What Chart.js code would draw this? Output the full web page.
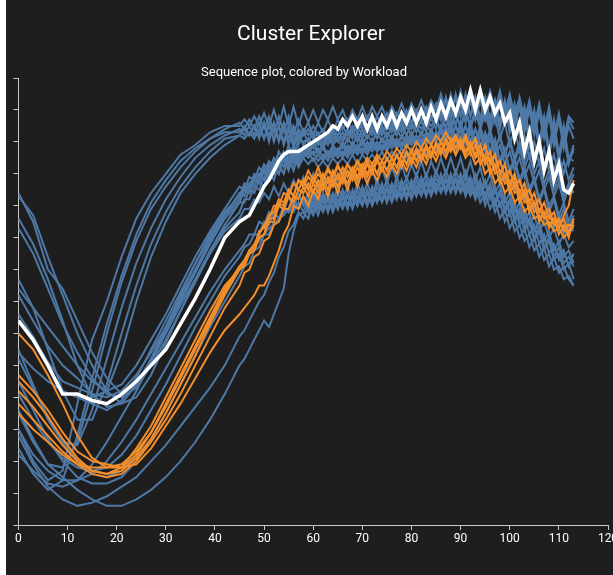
<!DOCTYPE html>
<html>
<head>
<meta charset="utf-8">
<script src="https://cdn.jsdelivr.net/npm/chart.js@4"></script>
<style>
  html, body { margin: 0; padding: 0; background: #ffffff; overflow: hidden; }
  #frame { position: absolute; left: 6px; top: 0; width: 607px; height: 575px; background: #1e1e1e; overflow: hidden; }
  #wrap { position: absolute; left: 0; top: 0; width: 630px; height: 575px; }
  .head { position: absolute; color: #ffffff; font-family: Roboto, sans-serif; white-space: nowrap; transform: translateX(-50%); }
  #title { left: 305px; top: 21px; font-size: 21px; line-height: 24px; }
  #subtitle { left: 298px; top: 64px; font-size: 13px; line-height: 16px; }
</style>
</head>
<body>
<div id="frame">
  <div id="wrap"><canvas id="c"></canvas></div>
  <div id="title" class="head">Cluster Explorer</div>
  <div id="subtitle" class="head">Sequence plot, colored by Workload</div>
</div>
<script>
// Sequence positions: coarse steps over the descent/rise, every step from 45 on
const X = [0,3,6,9,12,15,18,21,24,27,30,33,36,39,42,
  45,46,47,48,49,50,51,52,53,54,55,56,57,
  58,59,60,61,62,63,64,65,66,67,68,69,70,71,72,73,74,75,76,77,78,79,80,81,82,83,84,85,
  86,87,88,89,90,91,92,93,94,95,96,97,98,99,100,101,102,103,104,105,106,107,108,109,110,111,112,113];

const X_TICKS = [0,10,20,30,40,50,60,70,80,90,100,110,120];

// Selected sequence
const selected = [64,58,50,41,41,39,38,41,45,50,55,63,71,80,90,
  95,96,97,100,103,106,108,111,114,116,117,117,117,
  118,119,120,121,122,123,125,124,127,125,128,125,128,124,128,124,128,125,129,125,129,126,
  130,126,130,126,131,127,132,128,133,129,134,130,136,130,136,130,134,129,132,126,129,121,
  126,117,123,114,120,111,117,108,113,105,104,107];

// Workload B sequences (orange)
const wB1 = [60,55,47,38,28,21,18,18,22,29,38,47,56,65,74,
  81,83,86,88,91,94,96,100,100,104,103,107,105,
  108,105,109,106,110,107,111,108,112,109,112,109,113,110,113,110,114,111,115,112,116,113,
  117,114,118,115,119,116,120,117,121,118,121,117,120,116,119,114,117,112,114,109,
  111,106,108,103,105,100,102,97,99,94,96,92,94,93];
const wB2 = [45,40,34,27,21,17,16,18,24,31,40,49,58,67,75,
  80,81,85,86,90,91,96,96,101,100,105,103,108,
  107,111,108,112,108,112,109,113,109,113,110,114,110,114,111,115,111,115,112,116,112,117,
  113,117,114,118,115,119,116,120,117,121,118,122,118,121,116,119,113,116,110,113,
  107,110,104,107,101,104,98,101,96,98,93,96,91,94];
const wB3 = [42,37,31,25,20,17,16,17,21,27,35,44,53,63,72,
  80,82,85,86,90,91,95,95,100,99,103,101,105,
  104,107,104,108,105,109,106,110,107,111,108,112,109,113,110,114,111,115,112,116,113,117,
  114,118,115,119,116,120,117,121,118,122,119,122,118,121,116,119,113,116,110,113,
  106,109,102,105,99,101,96,98,94,96,93,97,100,108];
const wB4 = [38,33,28,23,19,16,15,16,20,26,33,41,50,59,68,
  75,79,80,84,85,89,90,94,95,99,99,103,102,
  106,103,107,104,108,105,109,106,110,107,111,108,112,109,113,110,114,111,115,112,116,113,
  117,114,118,115,119,116,120,117,120,116,119,115,117,113,115,110,112,107,109,104,
  106,101,103,98,100,96,97,94,95,92,93,90,92,95];
const wB5 = [35,30,26,22,19,18,18,19,23,29,37,46,55,64,73,
  81,82,86,87,92,93,97,98,102,101,105,103,108,
  106,109,107,110,108,111,109,112,110,113,111,114,112,115,113,116,114,117,115,118,116,119,
  117,120,118,121,119,122,120,123,120,122,118,121,116,119,113,116,110,113,107,110,
  104,107,101,104,98,101,95,98,93,96,91,94,90,96];
const wB6 = [47,42,36,29,23,20,19,18,19,24,31,38,46,54,61,
  66,68,70,72,75,75,78,82,86,91,94,100,99,
  103,100,105,102,107,103,108,104,109,105,110,106,111,107,111,108,112,109,113,110,114,111,
  115,112,116,113,117,114,118,115,119,116,120,116,119,115,117,113,115,110,111,107,
  108,104,105,101,102,98,99,96,97,94,95,93,94,94];

// Workload A sequences (blue): early troughs
const wA01 = [30,20,14,17,38,58,70,84,96,104,110,116,119,123,125,
  125,127,125,128,125,129,125,130,125,131,125,131,125,
  130,126,130,126,130,127,131,127,130,126,130,127,131,127,131,128,131,127,131,128,132,128,
  132,129,133,129,133,130,
  135,129,135,129,135,128,134,127,134,127,133,126,133,126,
  132,125,131,123,130,122,129,121,128,119,127,118,125,121];
const wA02 = [24,16,11,14,28,46,63,78,91,101,108,114,118,121,124,
  126,124,127,124,128,124,128,123,128,123,128,122,127,
  123,126,122,126,123,127,123,127,124,127,123,127,124,128,124,128,125,129,125,129,126,130,
  126,130,127,131,127,132,
  127,134,128,135,128,135,128,134,127,134,127,133,126,133,
  125,132,124,131,122,130,120,128,118,127,116,125,115,117];
const wA03 = [35,26,19,18,26,42,60,76,89,99,106,112,117,121,123,
  123,125,122,125,121,126,120,126,120,125,119,124,119,
  123,120,123,119,122,119,123,120,123,120,124,120,124,121,124,121,125,121,125,122,126,122,
  126,123,127,123,128,124,
  130,124,131,125,132,126,133,127,133,127,134,128,134,127,
  133,126,133,125,132,124,131,123,130,121,128,120,127,124];
const wA04 = [55,44,33,26,25,36,52,68,82,93,102,109,115,119,122,
  124,122,125,122,126,121,126,120,125,119,124,118,123,
  119,121,118,120,118,121,119,121,118,121,119,122,119,122,120,123,120,123,121,124,121,125,
  122,125,122,126,123,127,
  123,128,123,129,124,130,124,130,125,131,125,131,124,131,
  123,130,122,129,120,128,118,126,116,124,114,122,113,118];
const wA05 = [77,68,55,42,33,33,44,60,75,88,98,106,112,117,121,
  122,124,122,125,122,126,122,126,121,126,121,125,121,
  124,122,125,122,124,121,124,122,125,122,125,123,126,123,126,123,127,124,127,124,128,125,
  129,126,130,127,131,128,
  133,128,134,129,136,130,137,131,137,131,136,130,136,129,
  135,128,134,127,133,125,132,124,131,122,129,121,128,126];
const wA06 = [96,88,77,64,50,40,42,54,70,84,95,104,110,115,119,
  122,121,123,121,124,121,125,121,125,120,125,120,124,
  122,124,121,123,120,123,121,124,121,124,122,125,122,125,123,126,123,126,124,127,124,128,
  125,129,126,130,127,131,
  127,133,127,134,128,134,128,134,127,133,127,133,126,132,
  124,131,122,129,120,127,118,125,116,123,115,121,114,119];

// Workload A sequences (blue): middle troughs
const wA07 = [104,95,80,74,64,54,46,41,44,52,62,72,82,91,98,
  103,107,106,110,109,113,111,115,113,117,114,119,115,
  119,117,120,117,119,116,119,117,120,117,120,118,121,118,121,118,121,119,122,119,122,120,
  123,120,123,121,124,121,
  125,121,126,121,126,121,126,120,125,119,124,118,122,116,
  120,114,118,112,116,110,114,107,111,105,109,103,107,104];
const wA08 = [103,97,84,72,60,50,42,38,40,47,57,67,77,86,94,
  101,101,105,104,108,106,111,108,113,110,115,111,116,
  115,117,114,116,114,117,115,117,115,118,116,118,116,119,117,119,117,120,118,120,118,121,
  119,121,119,122,120,123,
  120,124,120,125,121,125,120,124,119,123,117,121,114,118,
  111,115,108,112,105,109,102,106,100,103,97,101,95,99];
const wA09 = [93,85,74,63,54,46,41,40,43,50,58,67,76,85,93,
  98,102,102,106,105,109,108,112,110,115,112,117,113,
  117,115,117,114,116,114,117,115,117,115,118,116,118,116,119,117,119,117,120,118,120,118,
  121,119,121,119,122,120,
  123,119,124,119,124,119,123,118,122,117,121,115,119,113,
  117,111,115,109,113,107,111,105,109,103,107,101,106,110];
const wA10 = [74,68,62,56,50,45,42,44,50,58,66,75,84,92,99,
  106,105,109,108,112,110,114,112,117,114,119,115,121,
  120,121,119,121,119,122,120,122,120,123,121,123,121,124,122,124,122,125,123,125,123,126,
  124,126,124,127,125,127,
  124,129,125,129,125,130,125,130,124,129,123,128,121,126,
  119,124,117,122,115,120,113,118,111,116,109,114,108,112];
const wA11 = [72,64,56,50,46,41,37,38,44,52,61,70,79,88,96,
  101,105,104,108,107,111,109,113,110,115,111,116,112,
  115,113,115,112,114,112,115,113,115,113,116,113,116,114,116,114,117,114,117,115,118,115,
  118,116,119,116,119,117,
  121,116,121,116,121,116,120,115,119,113,117,111,115,108,
  112,105,109,102,106,99,103,96,100,93,97,91,94,92];
const wA12 = [54,49,45,42,40,38,36,39,46,55,64,73,82,90,97,
  104,103,107,106,110,108,113,110,115,112,117,113,118,
  116,118,116,118,115,117,116,118,116,119,117,119,117,120,118,120,118,121,119,121,119,122,
  120,122,120,123,121,123,
  120,125,121,125,121,125,120,124,118,122,116,120,113,117,
  110,114,107,111,104,108,101,105,98,102,95,99,93,97];
const wA13 = [66,59,51,45,43,41,40,42,47,54,62,71,80,89,97,
  102,106,105,109,108,112,110,114,112,116,113,118,114,
  118,116,119,116,118,115,118,116,119,116,119,117,120,117,120,117,121,118,121,118,122,119,
  122,119,123,120,123,120,
  125,120,125,120,125,120,124,119,124,118,123,117,122,116,
  121,115,120,114,119,113,118,112,117,111,116,110,115,114];

// Workload A sequences (blue): late, deep troughs
const wA14 = [36,27,19,15,11,8,6,6,8,11,15,20,26,33,41,
  50,52,55,58,61,64,62,66,70,74,85,92,97,
  98,96,101,97,102,98,103,99,103,99,104,100,104,100,105,101,105,101,106,102,106,102,
  107,103,107,103,108,104,108,104,109,104,108,103,107,102,106,100,104,98,101,95,
  98,92,94,89,91,86,88,83,85,80,81,77,78,75];
const wA15 = [28,19,12,8,6,7,9,12,15,20,25,31,37,43,50,
  59,61,64,67,70,72,76,79,84,87,92,94,98,
  96,100,97,101,98,102,98,102,99,103,99,103,100,104,100,104,101,105,101,105,102,106,
  102,106,103,107,103,107,104,108,104,108,104,107,103,106,101,104,99,102,96,99,
  93,96,90,93,87,90,84,87,81,84,79,81,77,75];
const wA16 = [45,36,27,20,15,13,13,15,20,27,35,44,53,62,70,
  78,81,82,86,87,91,91,95,95,99,98,101,99,
  102,98,103,99,104,99,104,100,105,100,105,101,106,101,106,102,107,102,107,103,108,103,
  108,104,109,104,109,105,110,105,110,105,110,105,109,104,108,103,107,101,105,99,
  102,96,99,93,96,90,93,87,90,84,87,82,84,81];
const wA17 = [30,22,17,14,14,16,20,26,33,41,49,57,65,73,80,
  86,88,91,91,95,94,98,96,101,98,103,99,104,
  100,104,100,105,101,105,101,106,102,106,102,107,103,107,103,108,104,108,104,109,105,109,
  105,110,106,110,106,111,107,111,107,111,107,111,106,110,105,108,103,106,100,103,
  97,100,94,97,91,94,88,91,85,88,83,86,81,85];
const wA18 = [41,33,26,21,18,17,18,22,28,36,44,53,62,70,78,
  84,87,88,91,91,95,94,98,96,100,98,102,99,
  103,99,104,99,103,98,103,99,104,99,104,100,105,100,105,101,106,101,106,102,107,102,
  107,103,108,103,108,104,109,104,109,104,109,104,108,103,107,102,106,100,104,98,
  101,95,98,92,95,89,92,86,89,83,85,80,82,77];
const wA19 = [52,43,34,26,20,16,15,17,22,29,37,46,55,64,73,
  80,83,85,87,89,91,93,94,96,97,99,98,101,
  98,102,98,103,99,103,99,104,100,104,100,105,101,105,101,106,102,106,102,107,103,107,
  103,108,104,108,104,109,105,109,105,109,105,109,104,108,103,107,102,105,100,103,
  98,101,96,99,94,97,92,95,90,93,88,91,87,89];
const wA20 = [22,17,13,12,14,19,26,34,42,51,60,69,77,85,92,
  96,99,99,102,101,104,102,106,103,107,104,108,105,
  109,105,110,105,109,105,110,106,110,106,111,106,111,107,111,107,112,107,112,108,113,108,
  113,109,114,109,114,110,115,110,115,110,115,109,114,108,112,106,110,104,107,101,
  104,98,101,95,98,92,95,89,92,86,89,84,86,82];

const workloadA = [wA01,wA02,wA03,wA04,wA05,wA06,wA07,wA08,wA09,wA10,
  wA11,wA12,wA13,wA14,wA15,wA16,wA17,wA18,wA19,wA20];
const workloadB = [wB1,wB2,wB3,wB4,wB5,wB6];

const BLUE = '#4e79a7';
const ORANGE = '#f28e2b';
const AXIS = '#c8c8c8';

function points(vals) {
  return vals.map((v, i) => ({ x: X[i], y: v }));
}

const datasets = [];
workloadA.forEach((s, i) => datasets.push({
  label: 'A' + (i + 1), data: points(s), borderColor: BLUE, borderWidth: 2, order: 3
}));
workloadB.forEach((s, i) => datasets.push({
  label: 'B' + (i + 1), data: points(s), borderColor: ORANGE, borderWidth: 2, order: 2
}));
datasets.push({ label: 'selected', data: points(selected), borderColor: '#ffffff', borderWidth: 3.5, order: 1 });

new Chart(document.getElementById('c'), {
  type: 'line',
  data: { datasets },
  options: {
    responsive: true,
    maintainAspectRatio: false,
    animation: false,
    events: [],
    layout: { padding: { left: 0, right: 28, top: 78, bottom: 0 } },
    elements: { point: { radius: 0 }, line: { tension: 0, fill: false } },
    plugins: {
      legend: { display: false },
      tooltip: { enabled: false },
      title: { display: false },
      subtitle: { display: false }
    },
    scales: {
      x: {
        type: 'linear', min: X_TICKS[0], max: X_TICKS[X_TICKS.length - 1],
        afterBuildTicks: (s) => { s.ticks = X_TICKS.map(v => ({ value: v })); },
        ticks: { color: '#ffffff', padding: 2, maxRotation: 0, font: { family: 'Roboto', size: 12 } },
        grid: { drawOnChartArea: false, color: AXIS, tickLength: 5, tickColor: AXIS },
        border: { color: AXIS, width: 1 },
        afterFit: (s) => { s.height = 50; }
      },
      y: {
        type: 'linear', min: 0, max: 140,
        ticks: { stepSize: 10, display: false },
        grid: { drawOnChartArea: false, color: AXIS, tickLength: 5, tickColor: AXIS },
        border: { color: AXIS, width: 1 },
        afterFit: (s) => { s.width = 12.4; }
      }
    }
  }
});
</script>
</body>
</html>
